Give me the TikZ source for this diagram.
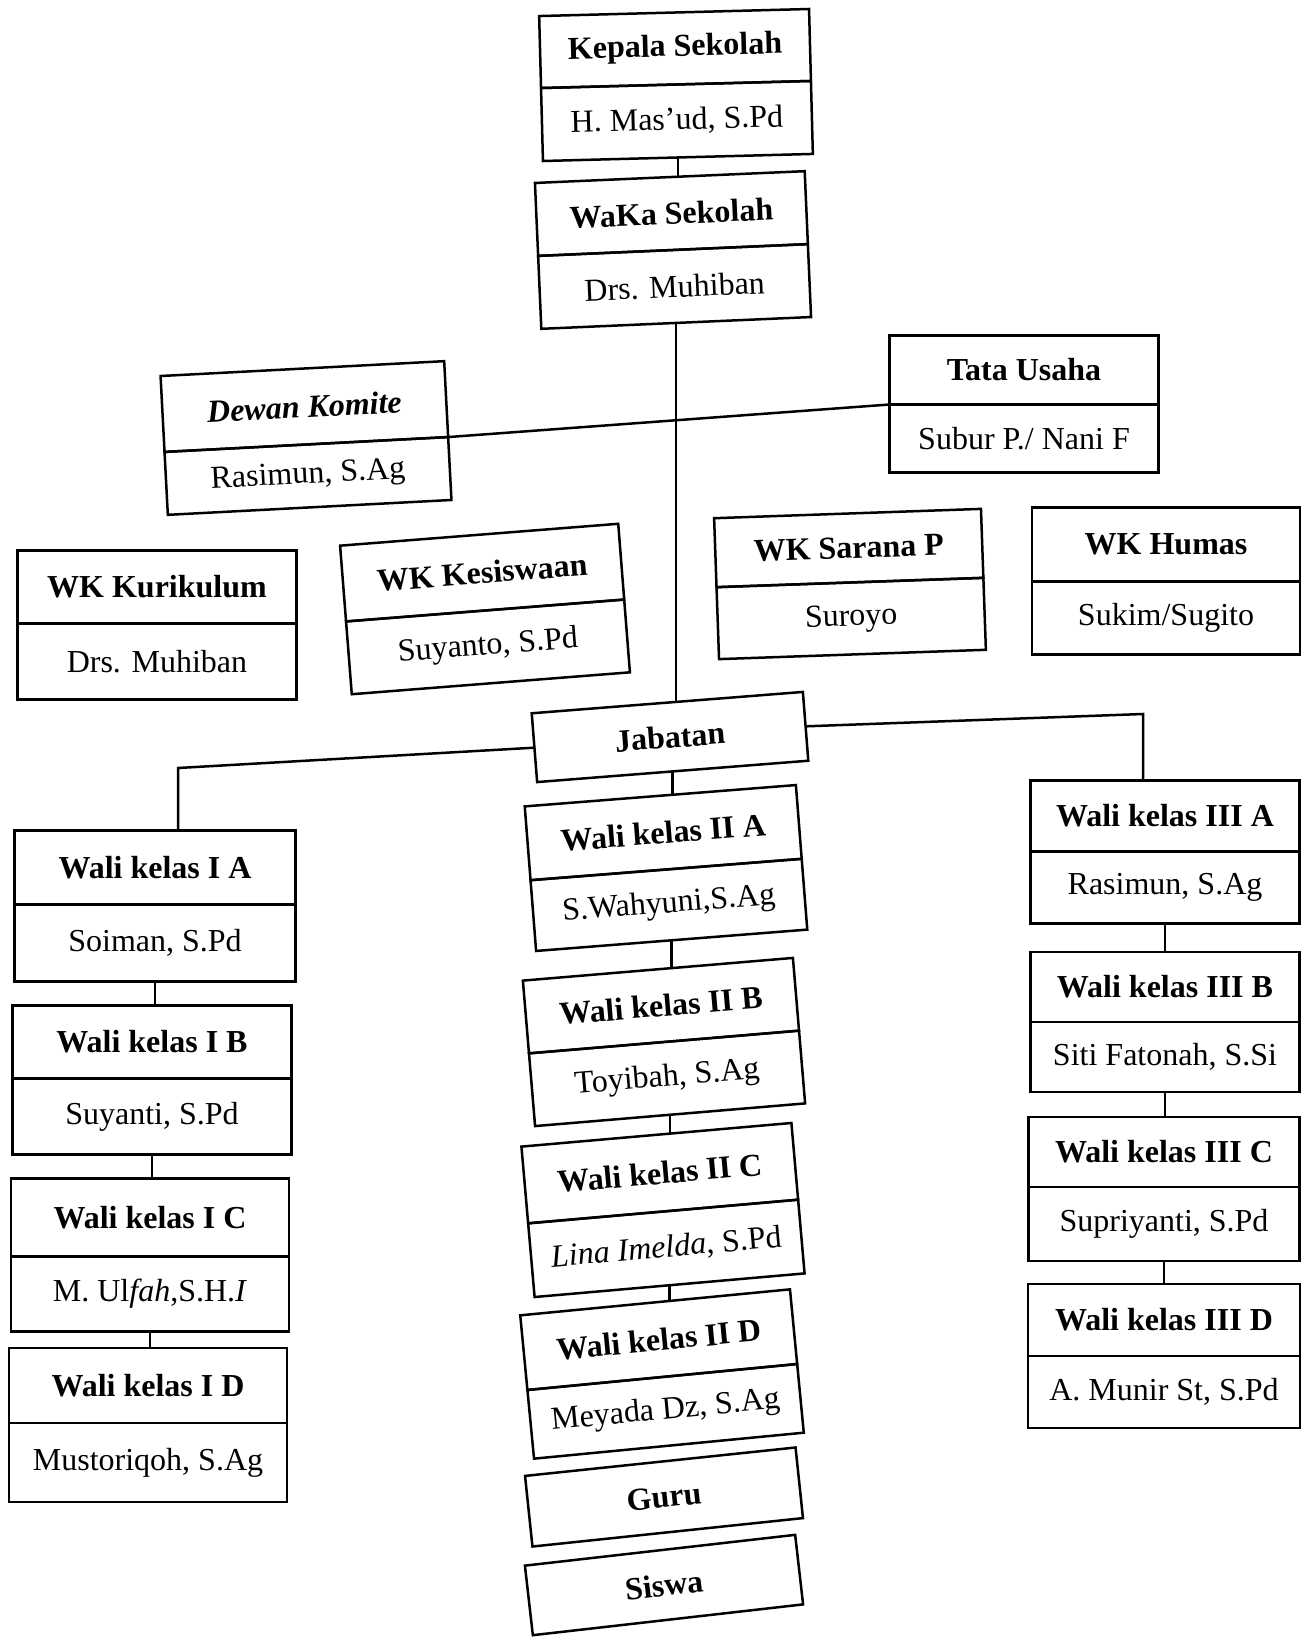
\documentclass[tikz,border=0pt]{standalone}
\usepackage{fontspec}
\setmainfont{Liberation Serif}
\tikzset{
  part/.style={draw, line width=2.5pt, inner sep=0pt, outer sep=0pt, align=center, anchor=center},
  link/.style={line width=2.5pt},
}
\newcommand{\tf}{\fontsize{32}{36}\selectfont\bfseries}
\newcommand{\nf}{\fontsize{32}{36}\selectfont}
% name, cx, cy, width, height, title height, angle, title, person
\newcommand{\orgbox}[9]{%
  \pgfmathsetmacro{\obtop}{(#6-#5)/2}%
  \pgfmathsetmacro{\obbot}{#6/2}%
  \pgfmathsetmacro{\obhb}{#5-#6}%
  \begin{scope}[shift={(#2,#3)}, rotate=#7, transform shape]
    \node[part, minimum width=#4pt, minimum height=#6pt, font=\tf] (#1-t) at (0,\obtop) {#8};
    \node[part, minimum width=#4pt, minimum height=\obhb pt, font=\nf] (#1-b) at (0,\obbot) {#9};
  \end{scope}}
% name, cx, cy, width, height, angle, text
\newcommand{\onebox}[7]{%
  \begin{scope}[shift={(#2,#3)}, rotate=#6, transform shape]
    \node[part, minimum width=#4pt, minimum height=#5pt, font=\tf] (#1) at (0,0) {#7};
  \end{scope}}
\begin{document}
\begin{tikzpicture}[x=1pt, y=-1pt]
\useasboundingbox (0,0) rectangle (1303,1638);
\fill[white] (0,0) rectangle (1303,1638);

\orgbox{kep}{676}{85}{270}{145}{72}{1.5}{Kepala Sekolah}{H. Mas'ud, S.Pd}
\orgbox{wak}{673}{250}{270}{146}{73}{2.5}{WaKa Sekolah}{Drs. Muhiban}
\orgbox{dk}{306}{438}{284}{139}{76}{3}{\itshape Dewan Komite}{Rasimun, S.Ag}
\orgbox{tu}{1024}{404}{269}{137}{69}{0}{Tata Usaha}{Subur P./ Nani F}
\orgbox{wkk}{157}{625}{279}{149}{73}{0}{WK Kurikulum}{Drs. Muhiban}
\orgbox{wks}{485}{609}{279}{149}{76}{4.5}{WK Kesiswaan}{Suyanto, S.Pd}
\orgbox{wsp}{850}{584}{267}{141}{69}{2}{WK Sarana P}{Suroyo}
\orgbox{wh}{1166}{581}{268}{147}{74}{0}{WK Humas}{Sukim/Sugito}

\onebox{jab}{670}{737}{272}{69}{4.5}{Jabatan}

\orgbox{w1a}{155}{906}{281}{151}{74}{0}{Wali kelas I A}{Soiman, S.Pd}
\orgbox{w1b}{152}{1080}{279}{149}{73}{0}{Wali kelas I B}{Suyanti, S.Pd}
\orgbox{w1c}{150}{1255}{278}{153}{78}{0}{Wali kelas I C}{M. Ul\textit{fah},S.H.\textit{I}}
\orgbox{w1d}{148}{1425}{278}{154}{75}{0}{Wali kelas I D}{Mustoriqoh, S.Ag}

\orgbox{w2a}{666}{868}{272}{145}{74}{4.5}{Wali kelas II A}{S.Wahyuni,S.Ag}
\orgbox{w2b}{664}{1042}{271}{146}{73}{4.8}{Wali kelas II B}{Toyibah, S.Ag}
\orgbox{w2c}{663}{1210}{271}{151}{77}{5}{Wali kelas II C}{\textit{Lina Imelda}, S.Pd}
\orgbox{w2d}{662}{1374}{271}{144}{75}{5.5}{Wali kelas II D}{Meyada Dz, S.Ag}
\onebox{guru}{664}{1497}{272}{71}{6}{Guru}
\onebox{siswa}{664}{1585}{272}{70}{6.5}{Siswa}

\orgbox{w3a}{1165}{852}{269}{143}{71}{0}{Wali kelas III A}{Rasimun, S.Ag}
\orgbox{w3b}{1165}{1022}{269}{140}{70}{0}{Wali kelas III B}{Siti Fatonah, S.Si}
\orgbox{w3c}{1164}{1189}{271}{144}{70}{0}{Wali kelas III C}{Supriyanti, S.Pd}
\orgbox{w3d}{1164}{1356}{272}{144}{72}{0}{Wali kelas III D}{A. Munir St, S.Pd}

\coordinate (jl) at (178,768);
\coordinate (jr) at (1143,714);

\draw[link] (kep-b.south) -- (kep-b.south |- wak-t.north);
\draw[link] (wak-b.south) -- (wak-b.south |- jab.north);
\draw[link] (dk-t.south east) -- (tu-t.south west);
\draw[link] (jab.west) -- (jl) -- (jl |- w1a-t.north);
\draw[link] (jab.east) -- (jr) -- (jr |- w3a-t.north);
\draw[link] (jab.south) -- (jab.south |- w2a-t.north);
\draw[link] (w1a-b.south) -- (w1a-b.south |- w1b-t.north);
\draw[link] (w1b-b.south) -- (w1b-b.south |- w1c-t.north);
\draw[link] (w1c-b.south) -- (w1c-b.south |- w1d-t.north);
\draw[link] (w2a-b.south) -- (w2a-b.south |- w2b-t.north);
\draw[link] (w2b-b.south) -- (w2b-b.south |- w2c-t.north);
\draw[link] (w2c-b.south) -- (w2c-b.south |- w2d-t.north);
\draw[link] (w3a-b.south) -- (w3a-b.south |- w3b-t.north);
\draw[link] (w3b-b.south) -- (w3b-b.south |- w3c-t.north);
\draw[link] (w3c-b.south) -- (w3c-b.south |- w3d-t.north);
\end{tikzpicture}
\end{document}
